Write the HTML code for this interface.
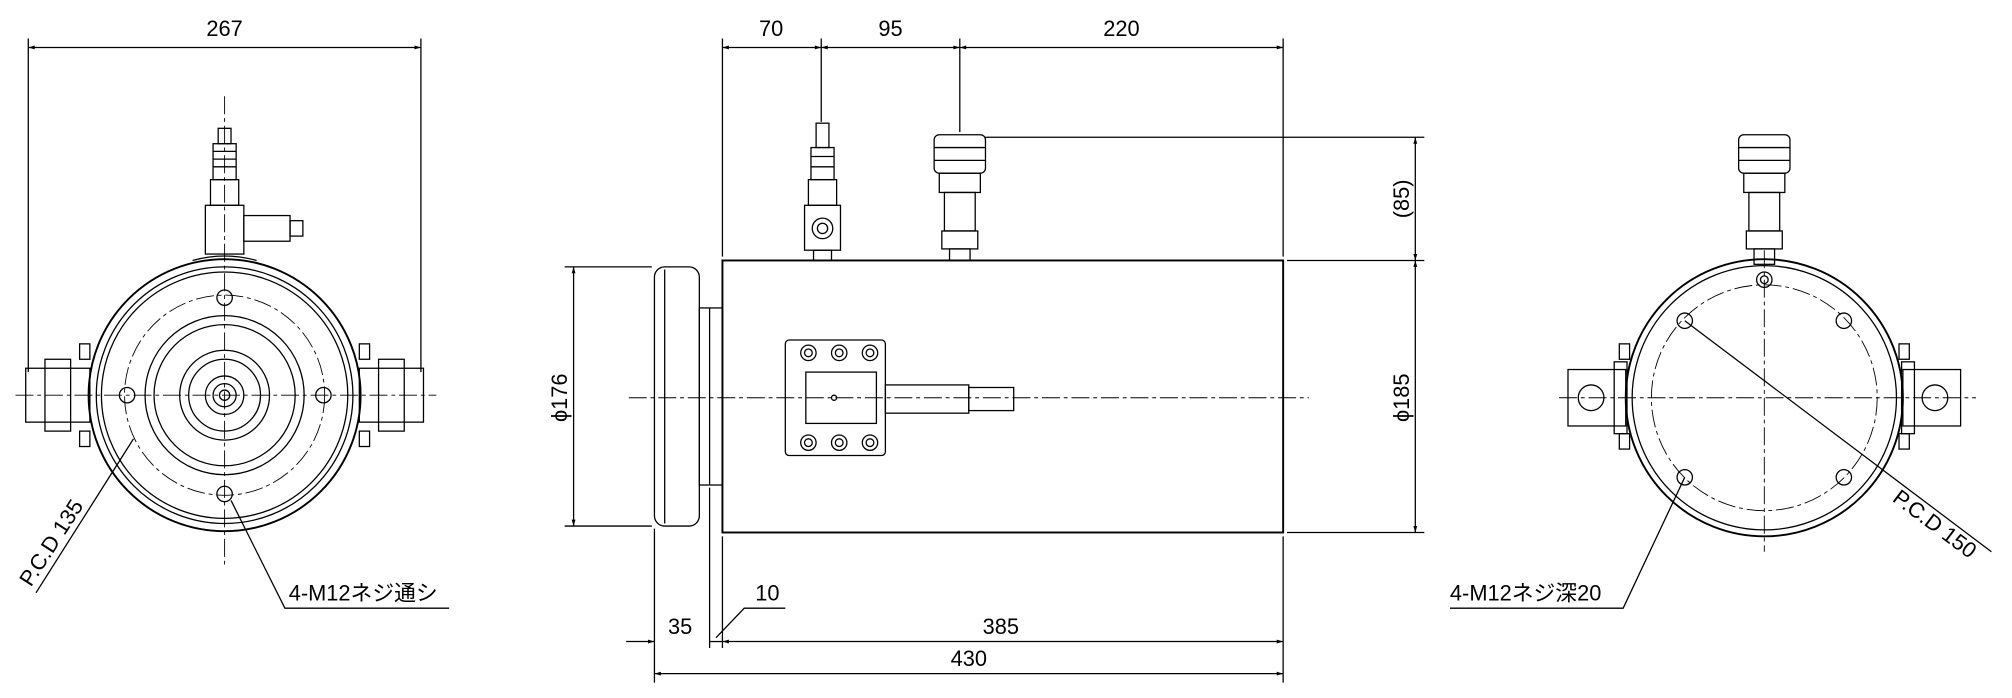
<!DOCTYPE html>
<html><head><meta charset="utf-8"><style>
html,body{margin:0;padding:0;background:#fff;}
svg{display:block;}
text{font-family:"Liberation Sans","Noto Sans CJK JP",sans-serif;font-size:17px;fill:#000;}
</style></head><body>
<svg width="2012" height="698" viewBox="0 0 1568 544" xmlns="http://www.w3.org/2000/svg">
<defs>
<marker id="a" viewBox="0 0 10 10" refX="10" refY="5" markerWidth="9" markerHeight="5" orient="auto-start-reverse"><path d="M0,2 L10,5 L0,8z" fill="#000"/></marker>
</defs>
<g stroke="#000" fill="none" stroke-width="1">
<g stroke-dasharray="14 3 3 3" stroke-width="0.7"><line x1="12" y1="308" x2="340" y2="308"/><line x1="175" y1="75" x2="175" y2="440"/></g>
<circle cx="175" cy="308" r="106" stroke-width="1.5"/>
<circle cx="175" cy="308" r="100"/>
<circle cx="175" cy="308" r="96"/>
<circle cx="175" cy="308" r="78" stroke-dasharray="14 3 3 3" stroke-width="0.7"/>
<circle cx="175" cy="308" r="62"/>
<circle cx="175" cy="308" r="55"/>
<circle cx="175" cy="308" r="35"/>
<circle cx="175" cy="308" r="28"/>
<circle cx="175" cy="308" r="15"/>
<circle cx="175" cy="308" r="9"/>
<circle cx="175" cy="308" r="4"/>
<circle cx="175" cy="232" r="6"/><circle cx="175" cy="385" r="6"/><circle cx="99" cy="308" r="6"/><circle cx="252" cy="308" r="6"/>
<rect x="20" y="287" width="50" height="42"/><rect x="35" y="280" width="20" height="56"/>
<rect x="280" y="287" width="50" height="42"/><rect x="295" y="280" width="20" height="56"/>
<rect x="62" y="268" width="8" height="12"/><rect x="62" y="336" width="8" height="12"/>
<rect x="280" y="268" width="8" height="12"/><rect x="280" y="336" width="8" height="12"/>
<path d="M150,203 Q175,196 200,203"/>
<rect x="160" y="160" width="30" height="38"/>
<rect x="190" y="168" width="36" height="20"/><rect x="226" y="172" width="10" height="12"/>
<rect x="164" y="140" width="22" height="20"/><rect x="166" y="112" width="18" height="28"/><rect x="170" y="100" width="10" height="12"/>
<line x1="166" y1="118" x2="184" y2="118"/><line x1="166" y1="124" x2="184" y2="124"/><line x1="166" y1="130" x2="184" y2="130"/>
<line x1="22" y1="30" x2="22" y2="290"/><line x1="328" y1="30" x2="328" y2="290"/>
<line x1="22" y1="37" x2="328" y2="37" marker-start="url(#a)" marker-end="url(#a)"/>
<line x1="104" y1="342" x2="28" y2="462"/>
<path d="M180,390 L222,474 L350,474"/>

<line x1="490" y1="310" x2="1020" y2="310" stroke-dasharray="14 3 3 3" stroke-width="0.7"/>
<rect x="563" y="203" width="437" height="212" stroke-width="1.5"/>
<rect x="510" y="208" width="35" height="202" rx="8"/>
<line x1="518" y1="210" x2="518" y2="408"/>
<rect x="545" y="240" width="18" height="138"/>
<line x1="553" y1="240" x2="553" y2="378"/>
<rect x="612" y="265" width="78" height="90" rx="3"/>
<rect x="628" y="290" width="55" height="40"/>
<g><circle cx="630" cy="275" r="6"/><circle cx="654" cy="275" r="6"/><circle cx="678" cy="275" r="6"/>
<circle cx="630" cy="345" r="6"/><circle cx="654" cy="345" r="6"/><circle cx="678" cy="345" r="6"/>
<circle cx="630" cy="275" r="3"/><circle cx="654" cy="275" r="3"/><circle cx="678" cy="275" r="3"/>
<circle cx="630" cy="345" r="3"/><circle cx="654" cy="345" r="3"/><circle cx="678" cy="345" r="3"/></g>
<rect x="690" y="300" width="65" height="22"/><rect x="755" y="302" width="35" height="18"/>
<circle cx="650" cy="310" r="2"/>
<rect x="627" y="160" width="28" height="35"/><circle cx="641" cy="178" r="8"/><circle cx="641" cy="178" r="4"/>
<rect x="634" y="195" width="14" height="8"/>
<rect x="630" y="140" width="22" height="20"/><rect x="632" y="115" width="18" height="25"/><rect x="636" y="96" width="10" height="19"/>
<line x1="632" y1="122" x2="650" y2="122"/><line x1="632" y1="130" x2="650" y2="130"/>
<rect x="728" y="105" width="40" height="30" rx="4"/>
<line x1="728" y1="115" x2="768" y2="115"/><line x1="728" y1="125" x2="768" y2="125"/>
<rect x="732" y="135" width="32" height="15"/><rect x="736" y="150" width="24" height="30"/>
<rect x="734" y="180" width="28" height="14"/><rect x="740" y="194" width="16" height="9"/>
<line x1="563" y1="30" x2="563" y2="200"/><line x1="640" y1="30" x2="640" y2="95"/><line x1="748" y1="30" x2="748" y2="103"/><line x1="1000" y1="30" x2="1000" y2="200"/>
<line x1="563" y1="37" x2="640" y2="37" marker-start="url(#a)" marker-end="url(#a)"/>
<line x1="640" y1="37" x2="748" y2="37" marker-start="url(#a)" marker-end="url(#a)"/>
<line x1="748" y1="37" x2="1000" y2="37" marker-start="url(#a)" marker-end="url(#a)"/>
<line x1="768" y1="107" x2="1110" y2="107"/><line x1="1003" y1="203" x2="1110" y2="203"/><line x1="1003" y1="415" x2="1110" y2="415"/>
<line x1="1103" y1="107" x2="1103" y2="203" marker-start="url(#a)" marker-end="url(#a)"/>
<line x1="1103" y1="203" x2="1103" y2="415" marker-start="url(#a)" marker-end="url(#a)"/>
<line x1="440" y1="208" x2="508" y2="208"/><line x1="440" y1="410" x2="508" y2="410"/>
<line x1="447" y1="208" x2="447" y2="410" marker-start="url(#a)" marker-end="url(#a)"/>
<line x1="510" y1="412" x2="510" y2="532"/><line x1="553" y1="380" x2="553" y2="505"/><line x1="563" y1="418" x2="563" y2="505"/><line x1="1000" y1="418" x2="1000" y2="532"/>
<line x1="488" y1="500" x2="510" y2="500" marker-end="url(#a)"/>
<line x1="553" y1="500" x2="563" y2="500"/>
<line x1="563" y1="500" x2="1000" y2="500" marker-start="url(#a)" marker-end="url(#a)"/>
<line x1="510" y1="525" x2="1000" y2="525" marker-start="url(#a)" marker-end="url(#a)"/>
<path d="M558,497 L580,474 L612,474"/>

<g stroke-dasharray="14 3 3 3" stroke-width="0.7"><line x1="1215" y1="310" x2="1540" y2="310"/><line x1="1375" y1="195" x2="1375" y2="430"/></g>
<circle cx="1375" cy="310" r="108" stroke-width="1.5"/>
<circle cx="1375" cy="310" r="103"/>
<circle cx="1375" cy="310" r="88" stroke-dasharray="14 3 3 3" stroke-width="0.7"/>
<circle cx="1375" cy="218" r="6"/><circle cx="1375" cy="218" r="3"/>
<circle cx="1313" cy="250" r="6"/><circle cx="1437" cy="250" r="6"/><circle cx="1313" cy="372" r="6"/><circle cx="1437" cy="372" r="6"/>
<rect x="1222" y="288" width="45" height="44"/><circle cx="1240" cy="310" r="10"/><rect x="1258" y="282" width="10" height="56"/>
<rect x="1483" y="288" width="45" height="44"/><circle cx="1508" cy="310" r="10"/><rect x="1482" y="282" width="10" height="56"/>
<rect x="1262" y="268" width="8" height="12"/><rect x="1262" y="338" width="8" height="12"/>
<rect x="1480" y="268" width="8" height="12"/><rect x="1480" y="338" width="8" height="12"/>
<rect x="1355" y="105" width="40" height="30" rx="4"/>
<line x1="1355" y1="115" x2="1395" y2="115"/><line x1="1355" y1="125" x2="1395" y2="125"/>
<rect x="1359" y="135" width="32" height="15"/><rect x="1363" y="150" width="24" height="30"/>
<rect x="1361" y="180" width="28" height="14"/><rect x="1367" y="194" width="16" height="12"/>
<line x1="1313" y1="250" x2="1552" y2="430"/>
<path d="M1313,372 L1265,474 L1130,474"/>
</g>
<g>
<text x="175" y="28" text-anchor="middle">267</text>
<text x="601" y="28" text-anchor="middle">70</text>
<text x="694" y="28" text-anchor="middle">95</text>
<text x="874" y="28" text-anchor="middle">220</text>
<text transform="translate(1098,155) rotate(-90)" text-anchor="middle">(85)</text>
<text transform="translate(1098,310) rotate(-90)" text-anchor="middle">ϕ185</text>
<text transform="translate(442,310) rotate(-90)" text-anchor="middle">ϕ176</text>
<text x="530" y="494" text-anchor="middle">35</text>
<text x="598" y="468" text-anchor="middle">10</text>
<text x="780" y="494" text-anchor="middle">385</text>
<text x="755" y="519" text-anchor="middle">430</text>
<text transform="translate(24,458) rotate(-57)">P.C.D 135</text>
<text x="225" y="468">4-M12ネジ通シ</text>
<text x="1130" y="468">4-M12ネジ深20</text>
<text transform="translate(1474,390) rotate(37)">P.C.D 150</text>
</g>
</svg>
</body></html>
